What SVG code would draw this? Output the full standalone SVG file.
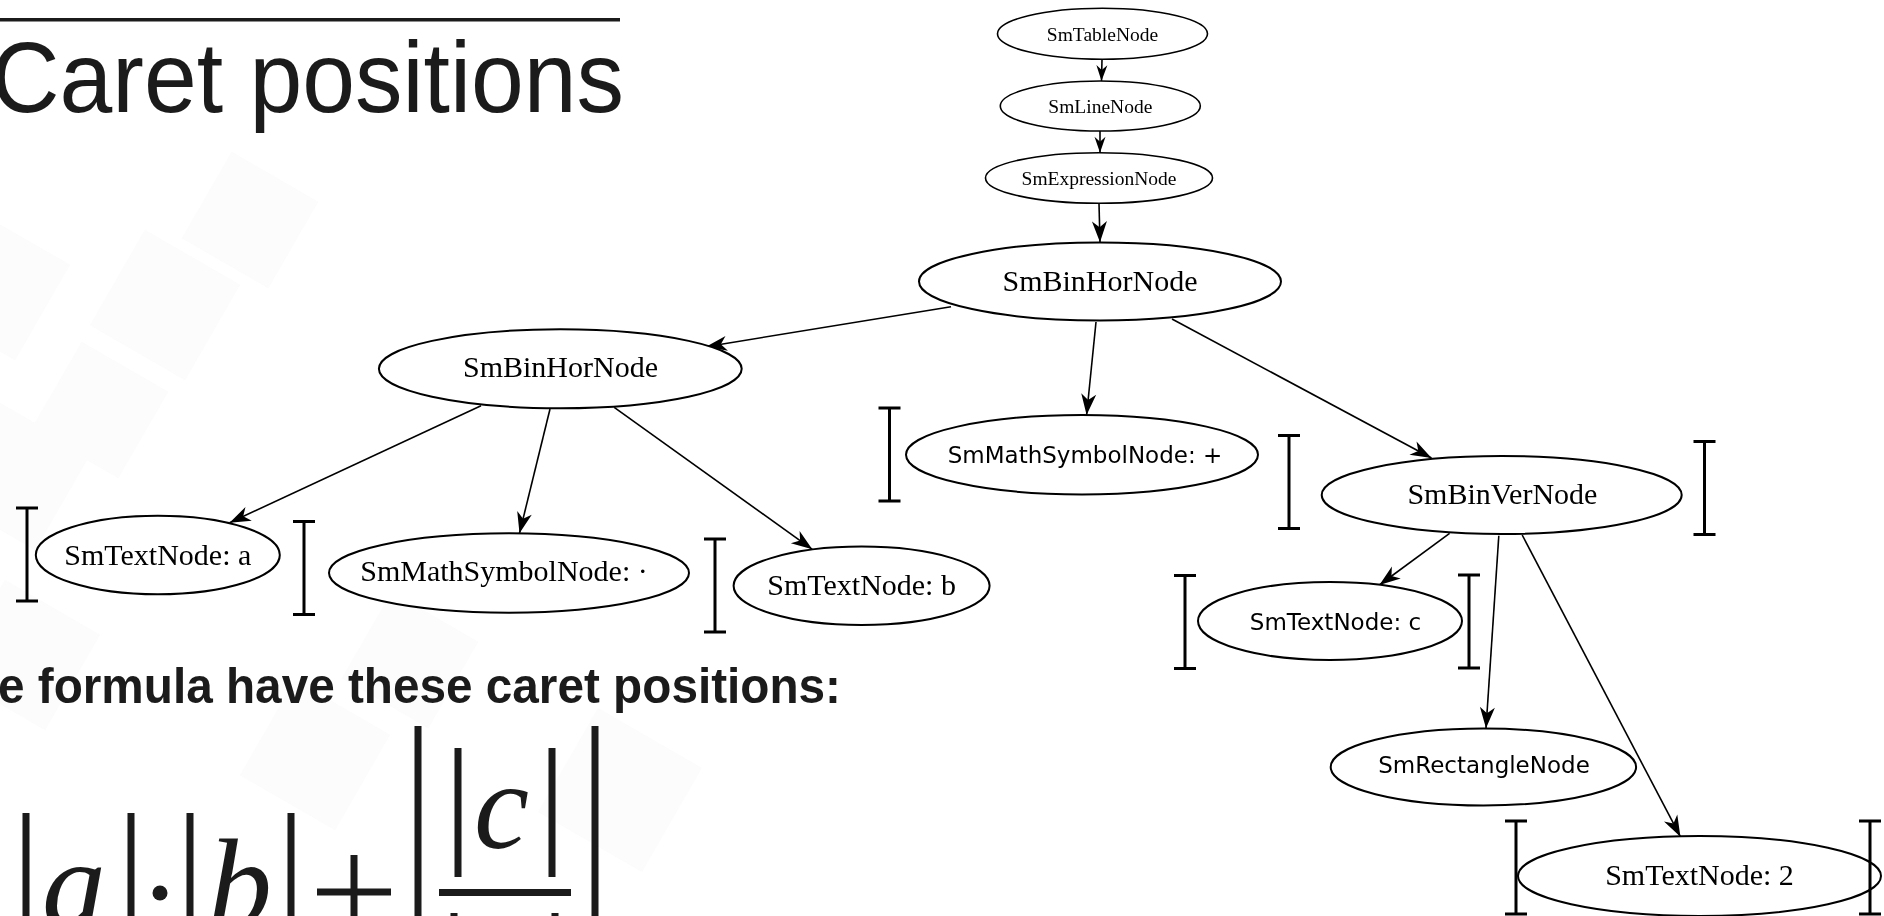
<svg xmlns="http://www.w3.org/2000/svg" width="1884" height="916" viewBox="0 0 1884 916">
  <style>
    .node ellipse { fill: #ffffff; stroke: #000000; stroke-width: 2; }
    .node.small ellipse { stroke-width: 1.6; }
    .serif { font-family: "Liberation Serif", "Times New Roman", serif; fill: #000000; text-anchor: middle; }
    .sans { font-family: "DejaVu Sans", "Liberation Sans", sans-serif; fill: #000000; text-anchor: middle; }
    .s20 { font-size: 19.5px; }
    .s30 { font-size: 30px; }
    .s23 { font-size: 23px; }
    .edge { stroke: #000000; stroke-width: 1.6; fill: none; }
    .caret { stroke: #000000; stroke-width: 3; fill: none; }
    .formula-bar { fill: #1b1b1b; }
    .bg-tile { fill: #f3f3f3; }
  </style>
  <defs>
    <marker id="arrow" markerUnits="userSpaceOnUse" markerWidth="24" markerHeight="18" viewBox="-22 -9 24 18" refX="0" refY="0" orient="auto">
      <path d="M0,0 L-21,-7.5 L-15,0 L-21,7.5 Z" fill="#000000"/>
    </marker>
    <marker id="arrow-small" markerUnits="userSpaceOnUse" markerWidth="18" markerHeight="12" viewBox="-17 -6 18 12" refX="0" refY="0" orient="auto">
      <path d="M0,0 L-16,-5.5 L-11,0 L-16,5.5 Z" fill="#000000"/>
    </marker>
    <!-- caret position marker: vertical bar with serifs -->
    <g id="ibeam">
      <path class="caret" d="M0,0 V93 M-11,0 H11 M-11,93 H11"/>
    </g>
  </defs>

  <rect x="0" y="0" width="1884" height="916" fill="#ffffff"/>

  <!-- faint slide background tiles -->
  <g id="background" opacity="0.3">
    <rect class="bg-tile" x="-60" y="230" width="110" height="110" transform="rotate(30 -5 285)"/>
    <rect class="bg-tile" x="110" y="250" width="110" height="110" transform="rotate(30 165 305)"/>
    <rect class="bg-tile" x="200" y="170" width="100" height="100" transform="rotate(30 250 220)"/>
    <rect class="bg-tile" x="-40" y="420" width="110" height="110" transform="rotate(30 15 475)"/>
    <rect class="bg-tile" x="50" y="360" width="100" height="100" transform="rotate(30 100 410)"/>
    <rect class="bg-tile" x="-30" y="600" width="110" height="110" transform="rotate(30 25 655)"/>
    <rect class="bg-tile" x="260" y="700" width="110" height="110" transform="rotate(30 315 755)"/>
    <rect class="bg-tile" x="560" y="730" width="120" height="120" transform="rotate(30 620 790)"/>
    <rect class="bg-tile" x="360" y="610" width="100" height="100" transform="rotate(30 410 660)"/>
  </g>

  <!-- slide title -->
  <g id="title">
    <rect x="0" y="18" width="620" height="3.5" fill="#1b1b1b"/>
    <text x="-9" y="112" font-family="Liberation Sans, Arial, sans-serif" font-size="100" fill="#1b1b1b" textLength="633" lengthAdjust="spacingAndGlyphs">Caret positions</text>
  </g>

  <!-- caption and formula -->
  <g id="caption">
    <text x="-2" y="703" font-family="Liberation Sans, Arial, sans-serif" font-size="50" font-weight="bold" fill="#1b1b1b" textLength="843" lengthAdjust="spacingAndGlyphs">e formula have these caret positions:</text>
  </g>
  <g id="formula">
    <rect class="formula-bar" x="22.5" y="813" width="7" height="110"/>
    <text x="42" y="927" font-family="Liberation Serif, Times New Roman, serif" font-style="italic" font-size="128" fill="#1b1b1b">a</text>
    <rect class="formula-bar" x="127.5" y="813" width="7" height="110"/>
    <circle cx="160" cy="893" r="7.5" fill="#1b1b1b"/>
    <rect class="formula-bar" x="186.5" y="813" width="7" height="110"/>
    <text x="208" y="927" font-family="Liberation Serif, Times New Roman, serif" font-style="italic" font-size="128" fill="#1b1b1b">b</text>
    <rect class="formula-bar" x="287.5" y="813" width="7" height="110"/>
    <rect class="formula-bar" x="317" y="888.5" width="74" height="7"/>
    <rect class="formula-bar" x="350.5" y="855" width="7" height="70"/>
    <rect class="formula-bar" x="414.5" y="726" width="7" height="200"/>
    <rect class="formula-bar" x="454.5" y="748" width="7" height="129"/>
    <text x="474" y="848" font-family="Liberation Serif, Times New Roman, serif" font-style="italic" font-size="124" fill="#1b1b1b">c</text>
    <rect class="formula-bar" x="548.5" y="748" width="7" height="129"/>
    <rect class="formula-bar" x="439" y="889" width="132" height="7"/>
    <rect class="formula-bar" x="450.5" y="913" width="7" height="10"/>
    <rect class="formula-bar" x="551.5" y="913" width="7" height="10"/>
    <rect class="formula-bar" x="591.5" y="726" width="7" height="200"/>
  </g>

  <!-- tree connectors -->
  <g id="edges">
    <line class="edge" x1="1102" y1="59.5" x2="1101.5" y2="81" marker-end="url(#arrow-small)"/>
    <line class="edge" x1="1100" y1="131" x2="1100" y2="152.7" marker-end="url(#arrow-small)"/>
    <line class="edge" x1="1099" y1="203.5" x2="1100" y2="242.3" marker-end="url(#arrow)"/>
    <line class="edge" x1="951" y1="306.7" x2="706" y2="346.7" marker-end="url(#arrow)"/>
    <line class="edge" x1="1096" y1="322" x2="1086.6" y2="415" marker-end="url(#arrow)"/>
    <line class="edge" x1="1172" y1="319" x2="1431.5" y2="458" marker-end="url(#arrow)"/>
    <line class="edge" x1="481" y1="405.7" x2="229.6" y2="522.7" marker-end="url(#arrow)"/>
    <line class="edge" x1="550" y1="409" x2="519.5" y2="533.3" marker-end="url(#arrow)"/>
    <line class="edge" x1="614.2" y1="407.3" x2="812.3" y2="549.3" marker-end="url(#arrow)"/>
    <line class="edge" x1="1449.6" y1="533.3" x2="1379.4" y2="585" marker-end="url(#arrow)"/>
    <line class="edge" x1="1498.8" y1="535.7" x2="1486" y2="728.3" marker-end="url(#arrow)"/>
    <line class="edge" x1="1522.2" y1="535" x2="1680.4" y2="836.7" marker-end="url(#arrow)"/>
  </g>

  <!-- tree nodes -->
  <g id="n-table" class="node small">
    <ellipse cx="1102.5" cy="33.8" rx="105" ry="25.5"/>
    <text class="serif s20" x="1102.5" y="40.5">SmTableNode</text>
  </g>
  <g id="n-line" class="node small">
    <ellipse cx="1100.3" cy="106" rx="100" ry="25"/>
    <text class="serif s20" x="1100.3" y="112.7">SmLineNode</text>
  </g>
  <g id="n-expression" class="node small">
    <ellipse cx="1099" cy="178" rx="113.5" ry="25.3"/>
    <text class="serif s20" x="1099" y="185">SmExpressionNode</text>
  </g>
  <g id="n-binhor-root" class="node">
    <ellipse cx="1100" cy="281.5" rx="181" ry="39"/>
    <text class="serif s30" x="1100" y="291">SmBinHorNode</text>
  </g>
  <g id="n-binhor-left" class="node">
    <ellipse cx="560.3" cy="368.8" rx="181.4" ry="39.5"/>
    <text class="serif s30" x="560.5" y="377">SmBinHorNode</text>
  </g>
  <g id="n-text-a" class="node">
    <ellipse cx="157.8" cy="555" rx="122" ry="39.3"/>
    <text class="serif s30" x="157.8" y="565">SmTextNode: a</text>
  </g>
  <g id="n-mathsym-dot" class="node">
    <ellipse cx="509" cy="573" rx="180" ry="39.7"/>
    <text class="serif s30" x="504" y="581">SmMathSymbolNode: ·</text>
  </g>
  <g id="n-text-b" class="node">
    <ellipse cx="861.6" cy="585.8" rx="128" ry="39.2"/>
    <text class="serif s30" x="861.6" y="595">SmTextNode: b</text>
  </g>
  <g id="n-mathsym-plus" class="node">
    <ellipse cx="1082" cy="454.7" rx="176" ry="39.7"/>
    <text class="sans s23" x="1085" y="463.3">SmMathSymbolNode: +</text>
  </g>
  <g id="n-binver" class="node">
    <ellipse cx="1501.7" cy="495" rx="180" ry="39"/>
    <text class="serif s30" x="1502.4" y="504">SmBinVerNode</text>
  </g>
  <g id="n-text-c" class="node">
    <ellipse cx="1330" cy="621" rx="132" ry="39"/>
    <text class="sans s23" x="1335.5" y="630">SmTextNode: c</text>
  </g>
  <g id="n-rectangle" class="node">
    <ellipse cx="1483.4" cy="767" rx="152.7" ry="38.5"/>
    <text class="sans s23" x="1484" y="773">SmRectangleNode</text>
  </g>
  <g id="n-text-2" class="node">
    <ellipse cx="1699.5" cy="876" rx="181.5" ry="40"/>
    <text class="serif s30" x="1699.5" y="885">SmTextNode: 2</text>
  </g>

  <!-- caret positions between leaves -->
  <g id="carets">
    <use href="#ibeam" x="27" y="508"/>
    <use href="#ibeam" x="304" y="521.5"/>
    <use href="#ibeam" x="715" y="539"/>
    <use href="#ibeam" x="889.5" y="408"/>
    <use href="#ibeam" x="1289" y="435.5"/>
    <use href="#ibeam" x="1704.5" y="441.5"/>
    <use href="#ibeam" x="1185" y="575.5"/>
    <use href="#ibeam" x="1469" y="575"/>
    <use href="#ibeam" x="1516" y="821"/>
    <use href="#ibeam" x="1870" y="821"/>
  </g>
</svg>
